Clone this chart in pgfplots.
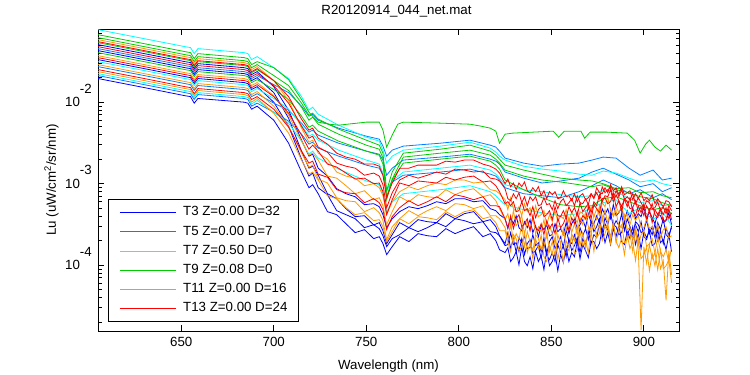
\documentclass[border=0pt]{standalone}
\usepackage{fontspec}
\setmainfont{Liberation Sans}
\usepackage{pgfplots}
\pgfplotsset{compat=1.18}
\definecolor{cB}{rgb}{0,0,1}
\definecolor{cL}{rgb}{0,0.5,1}
\definecolor{cC}{rgb}{0,1,1}
\definecolor{cG}{rgb}{0,0.8,0}
\definecolor{cO}{rgb}{1,0.6,0}
\definecolor{cR}{rgb}{1,0,0}
\newcommand{\ex}[1]{\raisebox{13.5bp}{#1}}
\begin{document}
\begin{tikzpicture}[font=\fontsize{13.3bp}{16bp}\selectfont]
\path[use as bounding box] (-98bp,-44bp) rectangle (652bp,331bp);
\begin{axis}[
 at={(0,0)}, anchor=south west,
 scale only axis, width=581bp, height=302bp,
 xmin=605, xmax=919,
 ymode=log, ymin=1.56e-5, ymax=0.079,
 xtick={650,700,750,800,850,900},
 ytick={1e-4,1e-3,1e-2},
 yticklabels={10\ex{-4},10\ex{-3},10\ex{-2}},
 minor ytick={2e-5,3e-5,4e-5,5e-5,6e-5,7e-5,8e-5,9e-5,2e-4,3e-4,4e-4,5e-4,6e-4,7e-4,8e-4,9e-4,2e-3,3e-3,4e-3,5e-3,6e-3,7e-3,8e-3,9e-3,2e-2,3e-2,4e-2,5e-2,6e-2,7e-2},
 tick align=inside,
 major tick length=6bp, minor tick length=3.5bp,
 axis line style={black, line width=0.75bp},
 every tick/.style={black, line width=0.75bp},
 /pgf/number format/assume math mode=true,
 /pgf/number format/set thousands separator={},
 xticklabel style={anchor=base, inner sep=0pt, yshift=-15bp},
 yticklabel style={anchor=base east, inner sep=0pt, xshift=-6bp, yshift=-4.75bp},
 xlabel={Wavelength (nm)},
 xlabel style={at={(axis description cs:0.5,-0.129)}, anchor=base, inner sep=0pt},
 ylabel={Lu (uW/cm\textsuperscript{2}/sr/nm)},
 ylabel style={at={(axis description cs:-0.0723,0.5)}, anchor=base, inner sep=0pt},
 title={R20120914\_044\_net.mat},
 title style={at={(axis description cs:0.5,1)}, anchor=base, inner sep=0pt, yshift=8.5bp, xshift=8bp},
 legend cell align=left,
 legend image code/.code={\draw[#1, line width=0.8bp] (0bp,0bp) -- (56bp,0bp);},
 legend style={at={(axis description cs:0.0172,0.0298)}, anchor=south west, draw=black, line width=0.75bp, fill=white,
   inner xsep=11bp, inner ysep=7bp, column sep=7bp, row sep=7bp,
   nodes={inner sep=0pt, text height=9.5bp, text depth=2.7bp}},
]
% ---------- blue ----------
\addplot[color=cB, line width=0.8bp] coordinates {(605,.0508)(630,.0394)(652,.0314)(655,.0306)(657,.0258)(659,.0297)(684,.0265)(686,.0258)(688,.0218)(691,.0237)(700,.0155)(708,.00798)(715,.00342)(719,.00218)(721,.00230)
(724,.00155)(729,.00124)(734,.000868)(739,.000754)(744,.000692)(749,.000553)(754,.000569)(757,.000522)(759,.000417)(761,.000289)(764,.000372)(768,.000454)(773,.000522)(778,.000494)(783,.000537)(788,.000601)(793,.000569)(798,.000655)(803,.000655)(808,.000601)(813,.000619)(817,.000494)(820,.000467)(822,.000417)
(825,.000372)(826.5,.000281)(828,.000383)(829.5,.000323)(831,.000405)(832.5,.000289)(834,.000265)(835.5,.000342)(837,.000289)(838.5,.000362)
(840,.000251)(841.5,.000306)(843,.000224)(844.5,.000306)(846,.000273)(847.5,.000314)(849,.000230)(850.5,.000237)(852,.000323)(853.5,.000258)
(855,.000281)(856.5,.000237)(858,.000333)(859.5,.000244)(861,.000323)(862.5,.000372)(864,.000281)(865.5,.000314)(867,.000362)(868.5,.000289)
(870,.000429)(871.5,.000333)(873,.000323)(874.5,.000405)(876,.000333)(877.5,.000494)(879,.000417)(880.5,.000494)(882,.000372)(883.5,.000553)
(885,.000405)(886.5,.000441)(888,.000508)(889.5,.000352)(891,.000467)(892.5,.000383)(894,.000508)(895.5,.000372)(897,.000429)(898.5,.000394)
(900,.000508)(901.5,.000352)(903,.000454)(904.5,.000383)(906,.000323)(907.5,.000429)(909,.000405)(910.5,.000333)(912,.000352)(913.5,.000441)
(915,.000314)};
\addlegendentry{T3 Z=0.00 D=32}
\addplot[color=cB, line width=0.8bp, forget plot] coordinates {(605,.0429)(630,.0333)(652,.0265)(655,.0258)(657,.0218)(659,.0251)(684,.0224)(686,.0218)(688,.0184)(691,.0200)(700,.0131)(708,.00636)(715,.00251)(719,.00155)(721,.00164)
(724,.00127)(729,.000754)(734,.000655)(739,.000494)(744,.000394)(749,.000405)(754,.000312)(757,.000333)(759,.000265)(761,.000184)(764,.000237)(768,.000333)(773,.000289)(778,.000362)(783,.000342)(788,.000333)(793,.000429)(798,.000372)(803,.000429)(808,.000454)(813,.000342)(817,.000362)(820,.000297)(822,.000230)
(825,.000184)(826.5,.000251)(828,.000160)(829.5,.000212)(831,.000143)(832.5,.000218)(834,.000189)(835.5,.000230)(837,.000160)(838.5,.000164)
(840,.000237)(841.5,.000174)(843,.000189)(844.5,.000147)(846,.000218)(847.5,.000139)(849,.000195)(850.5,.000224)(852,.000160)(853.5,.000184)
(855,.000224)(856.5,.000164)(858,.000273)(859.5,.000195)(861,.000184)(862.5,.000237)(864,.000179)(865.5,.000289)(867,.000230)(868.5,.000281)
(870,.000206)(871.5,.000352)(873,.000258)(874.5,.000297)(876,.000372)(877.5,.000251)(879,.000383)(880.5,.000314)(882,.000441)(883.5,.000297)
(885,.000352)(886.5,.000306)(888,.000429)(889.5,.000265)(891,.000372)(892.5,.000297)(894,.000237)(895.5,.000342)(897,.000314)(898.5,.000251)
(900,.000265)(901.5,.000362)(903,.000244)(904.5,.000297)(906,.000218)(907.5,.000333)(909,.000273)(910.5,.000372)(912,.000237)(913.5,.000218)
(915,.000306)};
\addplot[color=cB, line width=0.8bp, forget plot] coordinates {(605,.0333)(630,.0258)(652,.0206)(655,.0200)(657,.0169)(659,.0195)(684,.0174)(686,.0169)(688,.0143)(691,.0155)(700,.0100)(708,.00508)(715,.00200)(719,.00124)(721,.00135)
(724,.000893)(729,.000733)(734,.000467)(739,.000417)(744,.000372)(749,.000289)(754,.000314)(757,.000281)(759,.000230)(761,.000169)(764,.000212)(768,.000237)(773,.000289)(778,.000258)(783,.000289)(788,.000333)(793,.000297)(798,.000372)(803,.000352)(808,.000323)(813,.000342)(817,.000258)(820,.000251)(822,.000230)
(825,.000174)(826.5,.000179)(828,.000251)(829.5,.000179)(831,.000189)(832.5,.000147)(834,.000212)(835.5,.000135)(837,.000184)(838.5,.000206)
(840,.000139)(841.5,.000151)(843,.000174)(844.5,.000120)(846,.000189)(847.5,.000131)(849,.000117)(850.5,.000143)(852,.000111)(853.5,.000179)
(855,.000143)(856.5,.000174)(858,.000127)(859.5,.000212)(861,.000151)(862.5,.000174)(864,.000218)(865.5,.000143)(867,.000212)(868.5,.000174)
(870,.000258)(871.5,.000184)(873,.000237)(874.5,.000218)(876,.000323)(877.5,.000218)(879,.000323)(880.5,.000273)(882,.000224)(883.5,.000314)
(885,.000297)(886.5,.000237)(888,.000251)(889.5,.000342)(891,.000230)(892.5,.000289)(894,.000206)(895.5,.000314)(897,.000258)(898.5,.000342)
(900,.000224)(901.5,.000206)(903,.000281)(904.5,.000237)(906,.000323)(907.5,.000200)(909,.000265)(910.5,.000184)(912,.000281)(913.5,.000237)
(915,.000289)};
\addplot[color=cB, line width=0.8bp, forget plot] coordinates {(605,.0195)(630,.0151)(652,.0120)(655,.0117)(657,.00972)(659,.0111)(684,.0100)(686,.00972)(688,.00820)(691,.00893)(700,.00601)(708,.00314)(715,.00139)(719,.000893)(721,.000972)
(724,.000754)(729,.000454)(734,.000417)(739,.000323)(744,.000251)(749,.000273)(754,.000212)(757,.000224)(759,.000184)(761,.000135)(764,.000169)(768,.000224)(773,.000195)(778,.000244)(783,.000230)(788,.000224)(793,.000281)(798,.000244)(803,.000273)(808,.000297)(813,.000224)(817,.000244)(820,.000200)(822,.000155)
(825,.000143)(826.5,.000164)(828,.000111)(829.5,.000124)(831,.000147)(832.5,.000101)(834,.000169)(835.5,.000111)(837,.0000985)(838.5,.000127)
(840,.0000905)(841.5,.000147)(843,.000111)(844.5,.000131)(846,.0000880)(847.5,.000151)(849,.0000985)(850.5,.000111)(852,.000139)(853.5,.0000855)
(855,.000135)(856.5,.000108)(858,.000164)(859.5,.000111)(861,.000143)(862.5,.000127)(864,.000195)(865.5,.000120)(867,.000179)(868.5,.000151)
(870,.000124)(871.5,.000195)(873,.000195)(874.5,.000160)(876,.000184)(877.5,.000281)(879,.000189)(880.5,.000251)(882,.000179)(883.5,.000281)
(885,.000224)(886.5,.000314)(888,.000195)(889.5,.000179)(891,.000258)(892.5,.000212)(894,.000297)(895.5,.000179)(897,.000244)(898.5,.000160)
(900,.000258)(901.5,.000218)(903,.000265)(904.5,.000174)(906,.000184)(907.5,.000273)(909,.000189)(910.5,.000206)(912,.000155)(913.5,.000237)
(915,.000147)};
% ---------- light blue ----------
\addplot[color=cL, line width=0.8bp] coordinates {(605,.0454)(630,.0352)(652,.0281)(655,.0273)(657,.0230)(659,.0265)(684,.0237)(686,.0230)(688,.0195)(691,.0212)(700,.0164)(708,.0131)(715,.00893)(719,.00673)(721,.00712)(724,.00601)(735,.00480)(750,.00383)(757,.00352)(759,.00289)(761,.00218)(764,.00258)(770,.00289)(790,.00314)(806,.00342)(817,.00297)(820,.00281)(822,.00251)(825,.00206)(835,.00179)(845,.00164)(855,.00174)(865,.00179)(872,.00195)(878,.00212)(885,.00206)(892,.00155)(898,.00127)(905,.00147)(910,.00111)(915,.00117)};
\addlegendentry{T5 Z=0.00 D=7}
\addplot[color=cL, line width=0.8bp, forget plot] coordinates {(605,.0273)(630,.0212)(652,.0169)(655,.0164)(657,.0139)(659,.0160)(684,.0143)(686,.0139)(688,.0117)(691,.0127)(700,.00972)(708,.00798)(715,.00553)(719,.00429)(721,.00454)(724,.00394)(735,.00314)(750,.00251)(757,.00230)(759,.00195)(761,.00127)(764,.00155)(770,.00195)(790,.00212)(806,.00230)(817,.00200)(820,.00189)(822,.00174)(825,.00139)(835,.00117)(845,.00102)(855,.00108)(865,.00117)(872,.00139)(878,.00155)(885,.00131)(892,.00111)(898,.000919)(905,.00100)(910,.000798)(915,.000893)};
\addplot[color=cL, line width=0.8bp, forget plot] coordinates {(605,.0212)(630,.0164)(652,.0131)(655,.0127)(657,.0108)(659,.0124)(684,.0111)(686,.0108)(688,.00893)(691,.00972)(700,.00754)(708,.00585)(715,.00405)(719,.00306)(721,.00323)(724,.00273)(735,.00218)(750,.00169)(757,.00155)(759,.00127)(761,.000844)(764,.00105)(770,.00127)(790,.00139)(806,.00151)(817,.00131)(820,.00124)(822,.00111)(825,.000893)(835,.000754)(845,.000712)(855,.000673)(865,.000798)(872,.000945)(878,.00111)(885,.000945)(892,.000754)(898,.000844)(905,.000673)(910,.000754)(915,.000636)};
% ---------- cyan ----------
\addplot[color=cC, line width=0.8bp] coordinates {(605,.0775)(630,.0601)(652,.0480)(655,.0467)(657,.0394)(659,.0454)(684,.0405)(686,.0394)(688,.0333)(691,.0362)(700,.0265)(708,.0195)(715,.0117)(719,.00798)(721,.00868)(724,.00712)(735,.00522)(750,.00372)(757,.00333)(759,.00258)(761,.00179)(764,.00218)(770,.00258)(790,.00289)(806,.00323)(817,.00273)(820,.00244)(822,.00218)(825,.00195)(835,.00164)(845,.00151)(855,.00143)(865,.00131)(872,.00127)(878,.00143)(885,.00135)(892,.00117)(898,.00105)(905,.00111)(910,.00100)(915,.000945)};
\addlegendentry{T7 Z=0.50 D=0}
\addplot[color=cC, line width=0.8bp, forget plot] coordinates {(605,.0314)(630,.0244)(652,.0195)(655,.0189)(657,.0160)(659,.0184)(684,.0164)(686,.0160)(688,.0135)(691,.0147)(700,.0111)(708,.00820)(715,.00522)(719,.00383)(721,.00405)(724,.00342)(735,.00258)(750,.00195)(757,.00174)(759,.00135)(761,.000820)(764,.00108)(770,.00139)(790,.00155)(806,.00169)(817,.00147)(820,.00131)(822,.00117)(825,.000972)(835,.000844)(845,.000798)(855,.000733)(865,.000692)(872,.000712)(878,.000844)(885,.000798)(892,.000655)(898,.000585)(905,.000619)(910,.000537)(915,.000553)};
\addplot[color=cC, line width=0.8bp, forget plot] coordinates {(605,.0224)(630,.0174)(652,.0139)(655,.0135)(657,.0114)(659,.0131)(684,.0117)(686,.0114)(688,.00945)(691,.0105)(700,.00754)(708,.00553)(715,.00333)(719,.00230)(721,.00251)(724,.00206)(735,.00151)(750,.00108)(757,.000972)(759,.000754)(761,.000454)(764,.000601)(770,.000754)(790,.000844)(806,.000945)(817,.000798)(820,.000712)(822,.000636)(825,.000553)(835,.000480)(845,.000441)(855,.000405)(865,.000429)(872,.000508)(878,.000585)(885,.000636)(892,.000429)(898,.000508)(905,.000362)(910,.000454)(915,.000306)};
% ---------- green ----------
\addplot[color=cG, line width=0.8bp] coordinates {(605,.0673)(630,.0522)(652,.0417)(655,.0405)(657,.0342)(659,.0394)(684,.0352)(686,.0342)(688,.0289)(691,.0314)(700,.0265)(708,.0189)(715,.0108)(719,.00754)(721,.00673)(724,.00569)(730,.00537)(735,.00522)(745,.00553)(750,.00569)(757,.00569)(759,.00454)(761,.00281)(764,.00394)(767,.00537)(770,.00569)(790,.00553)(806,.00537)(812,.00508)(817,.00480)(820,.00441)(822,.00314)(825,.00405)(829,.00417)(840,.00429)(851,.00441)(854,.00372)(857,.00441)(866,.00441)(868,.00362)(871,.00429)(880,.00429)(891,.00417)(895,.00342)(898,.00237)(901,.00306)(903,.00342)(906,.00281)(909,.00251)(912,.00297)(915,.00258)};
\addlegendentry{T9 Z=0.08 D=0}
\addplot[color=cG, line width=0.8bp, forget plot] coordinates {(605,.0619)(630,.0480)(652,.0383)(655,.0372)(657,.0314)(659,.0362)(684,.0323)(686,.0314)(688,.0265)(691,.0289)(700,.0212)(708,.0160)(715,.00972)(719,.00692)(721,.00733)(724,.00619)(735,.00467)(750,.00342)(757,.00297)(759,.00237)(761,.000820)(764,.00139)(770,.00237)(790,.00265)(806,.00297)(817,.00251)(820,.00224)(822,.00200)(825,.00169)(835,.00147)(845,.00131)(855,.00117)(865,.00111)(872,.00108)(878,.00100)(885,.000868)(892,.000893)(898,.000775)(905,.000798)(910,.000712)(915,.000673)};
\addplot[color=cG, line width=0.8bp, forget plot] coordinates {(605,.0537)(630,.0417)(652,.0333)(655,.0323)(657,.0273)(659,.0314)(684,.0281)(686,.0273)(688,.0230)(691,.0251)(700,.0184)(708,.0139)(715,.00868)(719,.00601)(721,.00655)(724,.00537)(735,.00405)(750,.00297)(757,.00265)(759,.00206)(761,.000636)(764,.00114)(770,.00212)(790,.00237)(806,.00258)(817,.00224)(820,.00200)(822,.00179)(825,.00147)(835,.00124)(845,.00111)(855,.00105)(865,.000972)(872,.000919)(878,.000972)(885,.000844)(892,.000775)(898,.000692)(905,.000655)(910,.000585)(915,.000537)};
\addplot[color=cG, line width=0.8bp, forget plot] coordinates {(605,.0405)(630,.0314)(652,.0251)(655,.0244)(657,.0206)(659,.0237)(684,.0212)(686,.0206)(688,.0174)(691,.0189)(700,.0143)(708,.0108)(715,.00673)(719,.00494)(721,.00522)(724,.00441)(735,.00333)(750,.00251)(757,.00224)(759,.00174)(761,.000692)(764,.00111)(770,.00179)(790,.00200)(806,.00218)(817,.00189)(820,.00169)(822,.00151)(825,.00111)(835,.000844)(845,.000673)(855,.000553)(865,.000522)(872,.000537)(878,.000655)(885,.000692)(892,.000601)(898,.000537)(905,.000480)(910,.000508)(915,.000429)};
% ---------- orange ----------
\addplot[color=cO, line width=0.8bp] coordinates {(605,.0585)(630,.0454)(652,.0362)(655,.0352)(657,.0297)(659,.0342)(684,.0306)(686,.0297)(688,.0251)(691,.0273)(700,.0184)(708,.0105)(715,.00480)(719,.00323)(721,.00342)
(724,.00237)(729,.00200)(734,.00139)(739,.00124)(744,.00117)(749,.000945)(754,.00100)(757,.000893)(759,.000712)(761,.000417)(764,.000601)(768,.000798)(773,.000919)(778,.000844)(783,.000945)(788,.00102)(793,.000972)(798,.00111)(803,.00111)(808,.00102)(813,.00105)(817,.000844)(820,.000820)(822,.000754)
(825,.000636)(826.5,.000480)(828,.000673)(829.5,.000494)(831,.000454)(832.5,.000522)(834,.000405)(835.5,.000569)(837,.000454)(838.5,.000508)
(840,.000372)(841.5,.000537)(843,.000394)(844.5,.000417)(846,.000467)(847.5,.000314)(849,.000417)(850.5,.000342)(852,.000467)(853.5,.000342)
(855,.000405)(856.5,.000372)(858,.000480)(859.5,.000342)(861,.000454)(862.5,.000383)(864,.000333)(865.5,.000454)(867,.000429)(868.5,.000362)
(870,.000394)(871.5,.000522)(873,.000394)(874.5,.000494)(876,.000405)(877.5,.000585)(879,.000522)(880.5,.000692)(882,.000467)(883.5,.000417)
(885,.000522)(886.5,.000441)(888,.000537)(889.5,.000362)(891,.000429)(892.5,.000314)(894,.000417)(895.5,.000352)(897,.000405)(898.5,.000289)
(900,.000289)(901.5,.000372)(903,.000281)(904.5,.000297)(906,.000237)(907.5,.000314)(909,.000218)(910.5,.000273)(912,.000297)(913.5,.000218)
(915,.000230)};
\addlegendentry{T11 Z=0.00 D=16}
\addplot[color=cO, line width=0.8bp, forget plot] coordinates {(605,.0372)(630,.0289)(652,.0230)(655,.0224)(657,.0189)(659,.0218)(684,.0195)(686,.0189)(688,.0160)(691,.0174)(700,.0120)(708,.00692)(715,.00333)(719,.00224)(721,.00237)
(724,.00195)(729,.00124)(734,.00117)(739,.000945)(744,.000754)(749,.000820)(754,.000636)(757,.000673)(759,.000537)(761,.000314)(764,.000454)(768,.000692)(773,.000601)(778,.000733)(783,.000692)(788,.000673)(793,.000844)(798,.000733)(803,.000820)(808,.000868)(813,.000692)(817,.000733)(820,.000619)(822,.000494)
(825,.000362)(826.5,.000429)(828,.000289)(829.5,.000467)(831,.000306)(832.5,.000342)(834,.000405)(835.5,.000237)(837,.000352)(838.5,.000265)
(840,.000383)(841.5,.000244)(843,.000297)(844.5,.000258)(846,.000362)(847.5,.000218)(849,.000306)(850.5,.000244)(852,.000200)(853.5,.000306)
(855,.000297)(856.5,.000237)(858,.000265)(859.5,.000383)(861,.000251)(862.5,.000323)(864,.000237)(865.5,.000383)(867,.000314)(868.5,.000454)
(870,.000297)(871.5,.000281)(873,.000417)(874.5,.000362)(876,.000537)(877.5,.000342)(879,.000480)(880.5,.000323)(882,.000494)(883.5,.000394)
(885,.000467)(886.5,.000289)(888,.000289)(889.5,.000417)(891,.000273)(892.5,.000289)(894,.000206)(895.5,.000297)(897,.000174)(898.5,.000237)
(900,.000265)(901.5,.000169)(903,.000184)(904.5,.000212)(906,.000139)(907.5,.000224)(909,.000147)(910.5,.000127)(912,.000155)(913.5,.000108)
(915,.000169)};
\addplot[color=cO, line width=0.8bp, forget plot] coordinates {(605,.0289)(630,.0224)(652,.0179)(655,.0174)(657,.0147)(659,.0169)(684,.0151)(686,.0147)(688,.0124)(691,.0135)(700,.00893)(708,.00508)(715,.00237)(719,.00160)(721,.00169)
(724,.00114)(729,.00102)(734,.000673)(739,.000619)(744,.000601)(749,.000454)(754,.000508)(757,.000441)(759,.000352)(761,.000206)(764,.000297)(768,.000372)(773,.000467)(778,.000405)(783,.000467)(788,.000522)(793,.000467)(798,.000569)(803,.000553)(808,.000494)(813,.000537)(817,.000405)(820,.000405)(822,.000372)
(825,.000289)(826.5,.000212)(828,.000333)(829.5,.000195)(831,.000244)(832.5,.000206)(834,.000314)(835.5,.000169)(837,.000258)(838.5,.000195)
(840,.000151)(841.5,.000237)(843,.000212)(844.5,.000155)(846,.000169)(847.5,.000251)(849,.000147)(850.5,.000195)(852,.000131)(853.5,.000237)
(855,.000184)(856.5,.000281)(858,.000169)(859.5,.000151)(861,.000244)(862.5,.000200)(864,.000306)(865.5,.000174)(867,.000251)(868.5,.000160)
(870,.000289)(871.5,.000251)(873,.000333)(874.5,.000218)(876,.000244)(877.5,.000405)(879,.000281)(880.5,.000323)(882,.000218)(883.5,.000342)
(885,.000189)(886.5,.000281)(888,.000314)(889.5,.000189)(891,.000206)(892.5,.000244)(894,.000147)(895.5,.000265)(897,.000155)(898.5,.0000160)
(900,.000169)(901.5,.000105)(903,.000179)(904.5,.000120)(906,.000143)(907.5,.0000880)(909,.000155)(910.5,.0000905)(912,.0000985)(913.5,.000117)
(915,.0000610)};
\addplot[color=cO, line width=0.8bp, forget plot] coordinates {(605,.0237)(630,.0184)(652,.0147)(655,.0143)(657,.0120)(659,.0139)(684,.0124)(686,.0120)(688,.0100)(691,.0111)(700,.00733)(708,.00417)(715,.00195)(719,.00131)(721,.00139)
(724,.00111)(729,.000712)(734,.000655)(739,.000508)(744,.000417)(749,.000441)(754,.000352)(757,.000362)(759,.000297)(761,.000195)(764,.000258)(768,.000372)(773,.000323)(778,.000394)(783,.000382)(788,.000362)(793,.000454)(798,.000394)(803,.000454)(808,.000480)(813,.000372)(817,.000394)(820,.000333)(822,.000265)
(825,.000265)(826.5,.000195)(828,.000147)(829.5,.000237)(831,.000212)(832.5,.000151)(834,.000169)(835.5,.000251)(837,.000143)(838.5,.000189)
(840,.000120)(841.5,.000212)(843,.000160)(844.5,.000237)(846,.000127)(847.5,.000111)(849,.000174)(850.5,.000135)(852,.000218)(853.5,.000117)
(855,.000179)(856.5,.000108)(858,.000200)(859.5,.000169)(861,.000224)(862.5,.000139)(864,.000151)(865.5,.000258)(867,.000174)(868.5,.000200)
(870,.000143)(871.5,.000258)(873,.000147)(874.5,.000251)(876,.000314)(877.5,.000200)(879,.000244)(880.5,.000306)(882,.000184)(883.5,.000342)
(885,.000195)(886.5,.000164)(888,.000218)(889.5,.000135)(891,.000237)(892.5,.000160)(894,.000195)(895.5,.000114)(897,.000212)(898.5,.000120)
(900,.000135)(901.5,.000164)(903,.0000855)(904.5,.000139)(906,.0000985)(907.5,.000160)(909,.0000905)(910.5,.000114)(912,.0000372)(913.5,.000151)
(915,.0000764)};
% ---------- red ----------
\addplot[color=cR, line width=0.8bp] coordinates {(605,.0553)(630,.0429)(652,.0342)(655,.0333)(657,.0281)(659,.0323)(684,.0289)(686,.0281)(688,.0237)(691,.0258)(700,.0184)(708,.0117)(715,.00619)(719,.00454)(721,.00480)
(724,.00362)(729,.00306)(734,.00237)(739,.00212)(744,.00200)(749,.00174)(754,.00174)(757,.00164)(759,.00127)(761,.000673)(764,.00102)(768,.00155)(773,.00155)(778,.00169)(783,.00169)(788,.00169)(793,.00189)(798,.00184)(803,.00195)(808,.00195)(813,.00174)(817,.00164)(820,.00151)(822,.00135)
(825,.00100)(826.5,.00114)(828,.000919)(829.5,.00102)(831,.000844)(832.5,.00102)(834,.000919)(835.5,.00105)(837,.000820)(838.5,.000775)
(840,.000893)(841.5,.000798)(843,.000919)(844.5,.000712)(846,.000820)(847.5,.000655)(849,.000798)(850.5,.000733)(852,.000798)(853.5,.000655)
(855,.000673)(856.5,.000820)(858,.000692)(859.5,.000712)(861,.000619)(862.5,.000754)(864,.000601)(865.5,.000712)(867,.000754)(868.5,.000636)
(870,.000673)(871.5,.000754)(873,.000655)(874.5,.000893)(876,.000775)(877.5,.000754)(879,.000893)(880.5,.000775)(882,.000972)(883.5,.000820)
(885,.000893)(886.5,.000733)(888,.000919)(889.5,.000733)(891,.000775)(892.5,.000820)(894,.000636)(895.5,.000754)(897,.000655)(898.5,.000775)
(900,.000619)(901.5,.000673)(903,.000619)(904.5,.000733)(906,.000569)(907.5,.000655)(909,.000585)(910.5,.000522)(912,.000619)(913.5,.000601)
(915,.000522)};
\addlegendentry{T13 Z=0.00 D=24}
\addplot[color=cR, line width=0.8bp, forget plot] coordinates {(605,.0480)(630,.0372)(652,.0297)(655,.0289)(657,.0244)(659,.0281)(684,.0251)(686,.0244)(688,.0206)(691,.0224)(700,.0160)(708,.00972)(715,.00508)(719,.00362)(721,.00383)
(724,.00281)(729,.00244)(734,.00179)(739,.00164)(744,.00155)(749,.00127)(754,.00135)(757,.00124)(759,.000972)(761,.000508)(764,.000775)(768,.00111)(773,.00127)(778,.00117)(783,.00127)(788,.00139)(793,.00131)(798,.00151)(803,.00147)(808,.00139)(813,.00143)(817,.00117)(820,.00114)(822,.00108)
(825,.000868)(826.5,.000655)(828,.000619)(829.5,.000754)(831,.000655)(832.5,.000775)(834,.000585)(835.5,.000692)(837,.000537)(838.5,.000692)
(840,.000619)(841.5,.000692)(843,.000537)(844.5,.000553)(846,.000673)(847.5,.000553)(849,.000569)(850.5,.000480)(852,.000619)(853.5,.000494)
(855,.000601)(856.5,.000655)(858,.000537)(859.5,.000585)(861,.000655)(862.5,.000537)(864,.000712)(865.5,.000585)(867,.000569)(868.5,.000655)
(870,.000553)(871.5,.000754)(873,.000673)(874.5,.000775)(876,.000655)(877.5,.000919)(879,.000775)(880.5,.000844)(882,.000893)(883.5,.000673)
(885,.000820)(886.5,.000692)(888,.000844)(889.5,.000636)(891,.000692)(892.5,.000636)(894,.000754)(895.5,.000569)(897,.000673)(898.5,.000585)
(900,.000508)(901.5,.000619)(903,.000585)(904.5,.000494)(906,.000508)(907.5,.000601)(909,.000467)(910.5,.000522)(912,.000429)(913.5,.000537)
(915,.000467)};
\addplot[color=cR, line width=0.8bp, forget plot] coordinates {(605,.0352)(630,.0273)(652,.0218)(655,.0212)(657,.0179)(659,.0206)(684,.0184)(686,.0179)(688,.0151)(691,.0164)(700,.0117)(708,.00733)(715,.00394)(719,.00265)(721,.00297)
(724,.00251)(729,.00174)(734,.00160)(739,.00135)(744,.00114)(749,.00117)(754,.00100)(757,.00102)(759,.000798)(761,.000417)(764,.000636)(768,.00102)(773,.000945)(778,.00108)(783,.00105)(788,.00102)(793,.00120)(798,.00111)(803,.00120)(808,.00124)(813,.00105)(817,.00108)(820,.000945)(822,.000798)
(825,.000569)(826.5,.000601)(828,.000537)(829.5,.000601)(831,.000454)(832.5,.000467)(834,.000601)(835.5,.000467)(837,.000494)(838.5,.000405)
(840,.000522)(841.5,.000383)(843,.000480)(844.5,.000522)(846,.000394)(847.5,.000417)(849,.000467)(850.5,.000362)(852,.000522)(853.5,.000405)
(855,.000394)(856.5,.000467)(858,.000383)(859.5,.000522)(861,.000441)(862.5,.000508)(864,.000405)(865.5,.000585)(867,.000454)(868.5,.000508)
(870,.000569)(871.5,.000441)(873,.000601)(874.5,.000537)(876,.000733)(877.5,.000601)(879,.000712)(880.5,.000692)(882,.000844)(883.5,.000601)
(885,.000733)(886.5,.000619)(888,.000522)(889.5,.000655)(891,.000601)(892.5,.000494)(894,.000508)(895.5,.000619)(897,.000454)(898.5,.000522)
(900,.000405)(901.5,.000537)(903,.000454)(904.5,.000569)(906,.000417)(907.5,.000383)(909,.000480)(910.5,.000417)(912,.000508)(913.5,.000372)
(915,.000441)};
\addplot[color=cR, line width=0.8bp, forget plot] coordinates {(605,.0251)(630,.0195)(652,.0155)(655,.0151)(657,.0127)(659,.0147)(684,.0131)(686,.0127)(688,.0108)(691,.0117)(700,.00820)(708,.00494)(715,.00251)(719,.00179)(721,.00189)
(724,.00131)(729,.00120)(734,.000844)(739,.000775)(744,.000754)(749,.000585)(754,.000655)(757,.000585)(759,.000480)(761,.000273)(764,.000394)(768,.000508)(773,.000619)(778,.000537)(783,.000601)(788,.000692)(793,.000601)(798,.000733)(803,.000692)(808,.000636)(813,.000692)(817,.000537)(820,.000537)(822,.000522)
(825,.000372)(826.5,.000289)(828,.000405)(829.5,.000281)(831,.000372)(832.5,.000417)(834,.000297)(835.5,.000323)(837,.000372)(838.5,.000265)
(840,.000405)(841.5,.000289)(843,.000265)(844.5,.000323)(846,.000237)(847.5,.000352)(849,.000281)(850.5,.000323)(852,.000244)(853.5,.000383)
(855,.000289)(856.5,.000323)(858,.000394)(859.5,.000265)(861,.000383)(862.5,.000323)(864,.000454)(865.5,.000333)(867,.000405)(868.5,.000372)
(870,.000522)(871.5,.000372)(873,.000553)(874.5,.000494)(876,.000441)(877.5,.000655)(879,.000673)(880.5,.000569)(882,.000601)(883.5,.000775)
(885,.000522)(886.5,.000619)(888,.000454)(889.5,.000655)(891,.000522)(892.5,.000673)(894,.000454)(895.5,.000405)(897,.000537)(898.5,.000441)
(900,.000569)(901.5,.000372)(903,.000480)(904.5,.000333)(906,.000480)(907.5,.000417)(909,.000494)(910.5,.000342)(912,.000362)(913.5,.000494)
(915,.000362)};
\end{axis}
\end{tikzpicture}
\end{document}
